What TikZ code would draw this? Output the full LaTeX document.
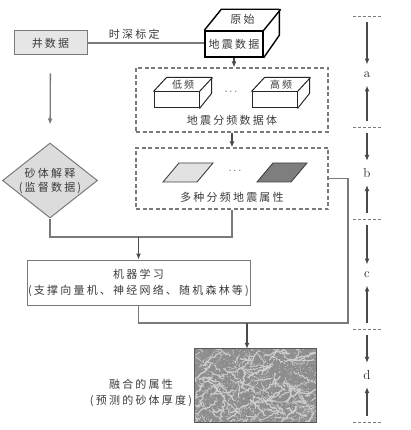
\documentclass[tikz,border=0pt]{standalone}
\usepackage{fontspec}
\usepackage{tikz}
\usetikzlibrary{arrows.meta,positioning,shapes.geometric,decorations.pathmorphing}
\newfontfamily\zh{Noto Sans CJK SC}[LetterSpace=20]
\definecolor{boxline}{HTML}{7A7A7A}
\definecolor{arrline}{HTML}{4A4A4A}
\definecolor{txt}{HTML}{3A3A3A}
\definecolor{wellfill}{HTML}{E6E6E6}
\definecolor{diafill}{HTML}{DCDCDC}
\definecolor{lightpar}{HTML}{E2E2E2}
\definecolor{darkpar}{HTML}{7E7E7E}
\definecolor{texbase}{HTML}{8E8E8E}
\definecolor{texvein}{HTML}{CFCFCF}
\tikzset{
  every node/.style={font=\zh\fontsize{11}{16}\selectfont, text=txt},
  plainbox/.style={draw=boxline, line width=1pt, inner sep=0pt},
  wellbox/.style={plainbox, fill=wellfill, minimum width=73pt, minimum height=24pt},
  frontface/.style={draw=black, line width=1.4pt, fill=white, inner sep=0pt},
  smallface/.style={draw=black!85, line width=1pt, fill=white, inner sep=0pt, minimum width=45pt, minimum height=16pt},
  dashbox/.style={draw=boxline, line width=1.2pt, dash pattern=on 4pt off 2.5pt, minimum width=192pt, inner sep=0pt},
  conn/.style={draw=boxline, line width=1.3pt},
  arr/.style={draw=arrline, line width=1.3pt, -{Latex[length=6pt,width=5pt]}},
  tickline/.style={draw=boxline, line width=0.8pt, dash pattern=on 3.5pt off 1.5pt},
  scalelab/.style={font=\rmfamily\fontsize{13}{15}\selectfont, text=black!85},
  topfont/.style={font=\zh\fontsize{10}{12}\selectfont}
}

\begin{document}
\begin{tikzpicture}[x=1pt,y=-1pt]
\useasboundingbox (0,0) rectangle (411,430);

% well data and raw seismic cube
\node[wellbox] (well) at (50.5,43) {井数据};
\node[frontface, minimum width=58pt, minimum height=26pt] (raw) at (234,44) {地震数据};
\draw[black, line width=1.4pt, line join=round] (raw.north west) -- ++(17,-21) -- ++(58,0) -- ++(0,26) -- (raw.south east);
\draw[black, line width=1.4pt] (raw.north east) -- ++(17,-21);
\node (rawtop) at ([shift={(8.5,-10.5)}]raw.north) {原始};
\draw[conn] (well.east) -- (well.east -| raw.west) node[pos=0.4, above=0pt] (tdlabel) {时深标定};

% frequency volumes
\node[dashbox, minimum height=64pt] (freqbox) at (232,100) {};
\node[smallface] (low) at (176.5,100) {};
\draw[black!85, line width=1pt, line join=round] (low.north west) -- ++(13,-14) -- ++(45,0) -- ++(0,16) -- (low.south east);
\draw[black!85, line width=1pt] (low.north east) -- ++(13,-14);
\node[topfont] (lowtop) at ([shift={(6.5,-7)}]low.north) {低频};
\node[smallface] (high) at (274.5,100) {};
\draw[black!85, line width=1pt, line join=round] (high.north west) -- ++(13,-14) -- ++(45,0) -- ++(0,16) -- (high.south east);
\draw[black!85, line width=1pt] (high.north east) -- ++(13,-14);
\node[topfont] (hightop) at ([shift={(6.5,-7)}]high.north) {高频};
\node (freqdots) at (231,92) {$\cdots$};
\node (freqlabel) at (232,120) {地震分频数据体};
\draw[arr] (raw.south) -- (raw.south |- freqbox.north);

% attributes
\node[dashbox, minimum height=61pt] (attrbox) at (232,178.5) {};
\draw[arr] (freqbox.south) -- (attrbox.north);
\draw[draw=black!75, line width=0.9pt, fill=lightpar] (163,182) -- (197,182) -- (213,163) -- (179,163) -- cycle;
\draw[draw=black!75, line width=0.9pt, fill=darkpar] (257,182) -- (291,182) -- (307,163) -- (273,163) -- cycle;
\node (attrdots) at (235,171) {$\cdots$};
\node (attrlabel) at (232,197) {多种分频地震属性};

% sand body interpretation
\node[diamond, draw=boxline, fill=diafill, line width=1pt, minimum width=95pt, minimum height=75pt, inner sep=0pt] (interp) at (50,180.5) {};
\node[align=center] (interptext) at (interp.center) {砂体解释\\[-2pt](监督数据)};
\draw[arr, draw=boxline, shorten <=18pt, shorten >=18pt] (well.south) -- (interp.north);

% machine learning
\node[plainbox, minimum width=223pt, minimum height=45pt, align=center] (ml) at (138.5,282.5) {机器学习\\(支撑向量机、神经网络、随机森林等)};
\coordinate (join) at (138.5,237);
\draw[conn] (interp.south) |- (join) -| (attrbox.south);
\draw[arr] (join) -- (ml.north);

% fused attribute
\path node[minimum width=121pt, minimum height=73pt, inner sep=0pt] (fused) at (255.5,385.5) {};
\begin{scope}
\clip (fused.south west) rectangle (fused.north east);
\fill[texbase] (fused.south west) rectangle (fused.north east);
\pgfmathsetseed{12}
\foreach \k in {1,...,170}{
  \pgfmathsetmacro{\px}{195+121*rnd}
  \pgfmathsetmacro{\py}{349+73*rnd}
  \pgfmathsetmacro{\lw}{0.3+1.1*rnd}
  \draw[texvein, line width=\lw pt, decorate, decoration={random steps, segment length=2pt, amplitude=1.3pt}] (\px,\py) -- ++(25*rand,18*rand);
}
\foreach \k in {1,...,900}{
  \fill[texvein] (195+121*rnd, 349+73*rnd) circle (0.45pt);
}
\foreach \k in {1,...,250}{
  \fill[black!55] (195+121*rnd, 349+73*rnd) circle (0.4pt);
}
\end{scope}
\draw[draw=black!65, line width=1pt] (fused.south west) rectangle (fused.north east);
\coordinate (corner) at (348,323);
\coordinate (drop) at (247,323);
\draw[conn] (ml.south) |- (corner) |- (attrbox.east);
\draw[arr] (drop) -- (drop |- fused.north);
\node[align=center] (fusedlabel) at (141,393) {融合的属性\\(预测的砂体厚度)};

% stage scale
\coordinate (s0) at (367,16);
\coordinate (s1) at (367,127);
\coordinate (s2) at (367,219);
\coordinate (s3) at (367,329);
\coordinate (s4) at (367,422);
\draw[tickline] ([xshift=-14.5pt]s0) -- ([xshift=14.5pt]s0);
\draw[tickline] ([xshift=-14.5pt]s1) -- ([xshift=14.5pt]s1);
\draw[tickline] ([xshift=-14.5pt]s2) -- ([xshift=14.5pt]s2);
\draw[tickline] ([xshift=-14.5pt]s3) -- ([xshift=14.5pt]s3);
\draw[tickline] ([xshift=-14.5pt]s4) -- ([xshift=14.5pt]s4);
\node[scalelab] (la) at (367,75) {a};
\node[scalelab] (lb) at (367,173) {b};
\node[scalelab] (lc) at (367,275) {c};
\node[scalelab] (ld) at (367,375) {d};
\draw[arr, shorten <=6pt, shorten >=4pt] (s0) -- (la);
\draw[arr, shorten <=6pt, shorten >=4pt] (s1) -- (la);
\draw[arr, shorten <=6pt, shorten >=4pt] (s1) -- (lb);
\draw[arr, shorten <=6pt, shorten >=4pt] (s2) -- (lb);
\draw[arr, shorten <=6pt, shorten >=4pt] (s2) -- (lc);
\draw[arr, shorten <=6pt, shorten >=4pt] (s3) -- (lc);
\draw[arr, shorten <=6pt, shorten >=4pt] (s3) -- (ld);
\draw[arr, shorten <=6pt, shorten >=4pt] (s4) -- (ld);

\end{tikzpicture}
\end{document}
